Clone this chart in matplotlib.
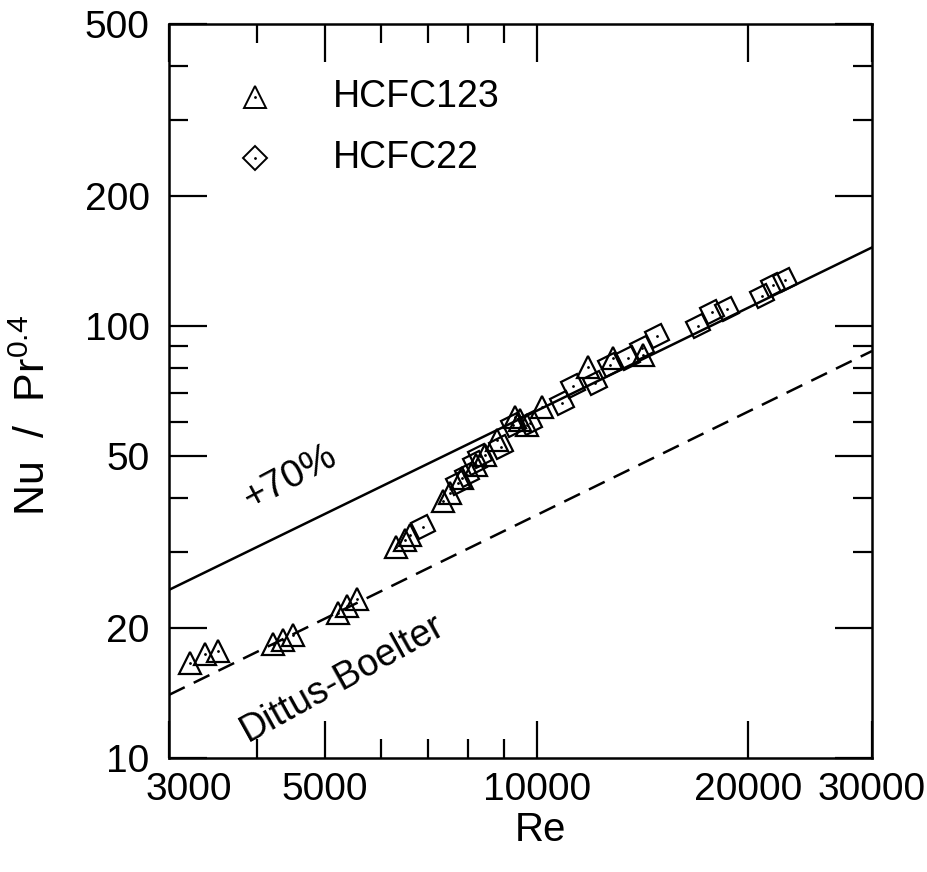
import matplotlib
matplotlib.use('Agg')
import matplotlib.pyplot as plt
from matplotlib.markers import MarkerStyle
from matplotlib.transforms import Affine2D, ScaledTranslation
from matplotlib.ticker import FixedLocator, NullFormatter

plt.rcParams['font.family'] = ['Liberation Sans', 'DejaVu Sans']
plt.rcParams['mathtext.default'] = 'regular'

# HCFC123 (triangles)
re_123 = [3214, 3375, 3523, 4217, 4358, 4503, 5219, 5374, 5553,
          6309, 6497, 6604, 7359, 7530, 7832, 8200, 8445,
          8784, 9318, 9471, 9690, 10180, 11830, 12840, 14170]
nu_123 = [16.6, 17.4, 17.7, 18.4, 18.8, 19.3, 21.7, 22.5, 23.3,
          30.8, 32.0, 32.8, 39.3, 41.1, 44.5, 47.7, 50.3,
          54.5, 61.6, 60.6, 59.0, 64.9, 80.4, 84.3, 85.7]

# HCFC22 (diamonds)
re_22 = [6893, 7730, 7961, 8173, 8308, 8900, 9257, 9787, 10870, 11270,
         12110, 12720, 13490, 14120, 14840, 16970, 17760, 18660,
         20920, 21690, 22560]
nu_22 = [34.3, 43.3, 45.2, 48.2, 50.0, 52.5, 59.0, 59.6, 66.3, 72.6,
         73.8, 81.2, 84.3, 88.9, 94.8, 100.0, 107.7, 109.5,
         117.3, 124.4, 127.8]

# correlation lines (end points)
re_line = [3000, 30000]
nu_db = [14.0, 87.5]       # Dittus-Boelter
nu_p70 = [24.5, 152.0]     # +70%

xticks_major = [3000, 5000, 10000, 20000, 30000]
xticks_minor = [4000, 6000, 7000, 8000, 9000]
yticks_major = [10, 20, 50, 100, 200, 500]
yticks_minor = [30, 40, 60, 70, 80, 90, 300, 400]

fig = plt.figure(figsize=(9.27, 8.72), dpi=100)
ax = fig.add_axes([0.1823, 0.1307, 0.7584, 0.8418])
ax.set_xscale('log')
ax.set_yscale('log')

ax.plot(re_line, nu_p70, 'k-', lw=1.8)
ax.plot(re_line, nu_db, 'k--', lw=1.8, dashes=(7, 4))

diam = MarkerStyle('D', transform=Affine2D().rotate_deg(-18))
ax.plot(re_22, nu_22, ls='None', marker=diam, ms=12.5, mfc='none', mec='k', mew=1.6)
ax.plot(re_123, nu_123, ls='None', marker='^', ms=16, mfc='none', mec='k', mew=1.6)
ax.plot(re_22 + re_123, nu_22 + nu_123, ls='None', marker='.', ms=2, color='k')

# legend drawn by hand like the original
ax.plot([3980], [339], ls='None', marker='^', ms=16, mfc='none', mec='k', mew=1.4)
ax.plot([3980], [339], ls='None', marker='.', ms=2, color='k')
ax.plot([3980], [245], ls='None', marker='D', ms=12, mfc='none', mec='k', mew=1.4)
ax.plot([3980], [245], ls='None', marker='.', ms=2, color='k')
ax.text(5130, 339, 'HCFC123', fontsize=27, va='center', ha='left')
ax.text(5130, 245, 'HCFC22', fontsize=27, va='center', ha='left')

ax.text(4459, 44.5, '+70%', fontsize=28, rotation=28, ha='center', va='center')
ax.text(5300, 15.3, 'Dittus-Boelter', fontsize=27, rotation=29, ha='center', va='center')

ax.set_xlim(3000, 30000)
ax.set_ylim(10, 500)
ax.xaxis.set_major_locator(FixedLocator(xticks_major))
ax.xaxis.set_minor_locator(FixedLocator(xticks_minor))
ax.yaxis.set_major_locator(FixedLocator(yticks_major))
ax.yaxis.set_minor_locator(FixedLocator(yticks_minor))
ax.set_xticklabels([str(v) for v in xticks_major])
ax.set_yticklabels([str(v) for v in yticks_major])
ax.xaxis.set_minor_formatter(NullFormatter())
ax.yaxis.set_minor_formatter(NullFormatter())
ax.tick_params(which='both', direction='in', top=True, right=True, width=1.6)
ax.tick_params(which='major', length=27, labelsize=28)
ax.tick_params(axis='x', which='major', pad=10)
ax.tick_params(axis='y', which='major', pad=14)
ax.tick_params(which='minor', length=14)
for s in ax.spines.values():
    s.set_linewidth(1.8)

# the 3000 label sits a bit to the right, clear of the "10"
lab0 = ax.get_xticklabels()[0]
lab0.set_transform(lab0.get_transform() + ScaledTranslation(0.2, 0, fig.dpi_scale_trans))

ax.set_xlabel('Re', fontsize=29)
ax.set_ylabel('Nu  /  Pr$^{0.4}$', fontsize=31)
ax.xaxis.set_label_coords(0.528, -0.072)
ax.yaxis.set_label_coords(-0.163, 0.467)

plt.savefig('out.png', dpi=100)
